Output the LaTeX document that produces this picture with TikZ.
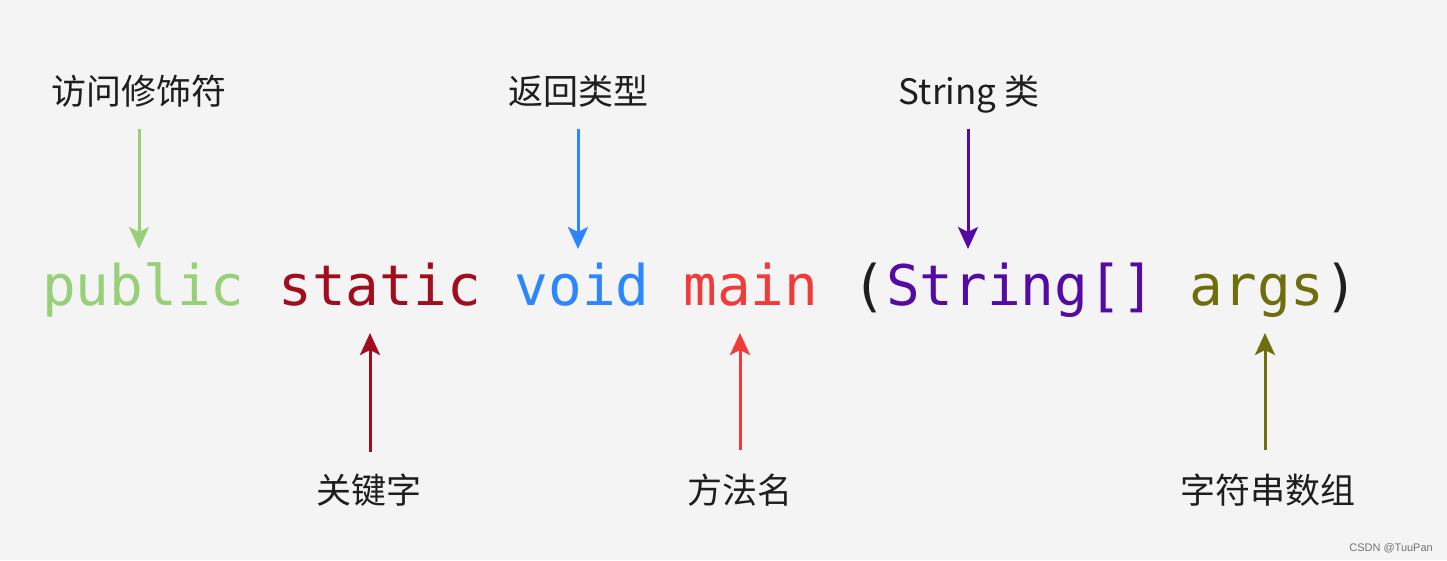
\documentclass[tikz,border=0pt]{standalone}
\usepackage{fontspec}
\setmonofont{DejaVu Sans Mono}
\newfontfamily\cjk{Noto Sans CJK SC}
\newfontfamily\wmfont{Liberation Sans}
\usetikzlibrary{arrows.meta}
\definecolor{bg}{HTML}{F4F4F4}
\definecolor{cpub}{HTML}{97D077}
\definecolor{cstat}{HTML}{A20D1E}
\definecolor{cvoid}{HTML}{2B86FF}
\definecolor{cmain}{HTML}{F23A3A}
\definecolor{cstr}{HTML}{540AA3}
\definecolor{cargs}{HTML}{6E6E0C}
\definecolor{ctext}{HTML}{1E1E1E}
\begin{document}
\begin{tikzpicture}[x=1pt,y=-1pt,
  code/.style={inner sep=0pt,anchor=base west,font=\ttfamily\fontsize{56}{60}\selectfont},
  lab/.style={inner sep=0pt,anchor=base,text=ctext,font=\cjk\fontsize{35}{40}\selectfont},
  arr/.style={line width=3pt,-{Stealth[length=22pt,width=20pt,inset=5pt]}}]
\fill[bg] (0,0) rectangle (1447,560);
\useasboundingbox (0,0) rectangle (1447,560);
% code line
\node[code,text=cpub]  (wpub)  at (42,305)   {public};
\node[code,text=cstat] (wstat) at (278.3,305) {static};
\node[code,text=cvoid] (wvoid) at (514.5,305) {void};
\node[code,text=cmain] (wmain) at (683.3,305) {main};
\node[code,text=ctext] (wlp)   at (852,305)   {(};
\node[code,text=cstr]  (wstr)  at (885.8,305) {String[]};
\node[code,text=cargs] (wargs) at (1189.5,305) {args};
\node[code,text=ctext] (wrp)   at (1324.5,305) {)};
% labels
\node[lab] (lmod)  at (139,104) {访问修饰符};
\node[lab] (lret)  at (578,104) {返回类型};
\node[lab] (lstrc) at (969,104) {String 类};
\node[lab] (lkey)  at (369,503) {关键字};
\node[lab] (lmeth) at (740,503) {方法名};
\node[lab] (larr)  at (1268,503) {字符串数组};
% arrow ends
\coordinate (a1s) at (139,129); \coordinate (a1e) at (139,249);
\coordinate (a2s) at (578,129); \coordinate (a2e) at (578,249);
\coordinate (a3s) at (968,129); \coordinate (a3e) at (968,249);
\coordinate (b1s) at (370,452); \coordinate (b1e) at (370,333);
\coordinate (b2s) at (740,450); \coordinate (b2e) at (740,333);
\coordinate (b3s) at (1265,450); \coordinate (b3e) at (1265,333);
\draw[arr,cpub]  (a1s) -- (a1e);
\draw[arr,cvoid] (a2s) -- (a2e);
\draw[arr,cstr]  (a3s) -- (a3e);
\draw[arr,cstat] (b1s) -- (b1e);
\draw[arr,cmain] (b2s) -- (b2e);
\draw[arr,cargs] (b3s) -- (b3e);
% watermark
\node[inner sep=0pt,anchor=base east,text=black!55,font=\wmfont\fontsize{11}{13}\selectfont] (wm) at (1433,551) {CSDN @TuuPan};
\end{tikzpicture}
\end{document}
